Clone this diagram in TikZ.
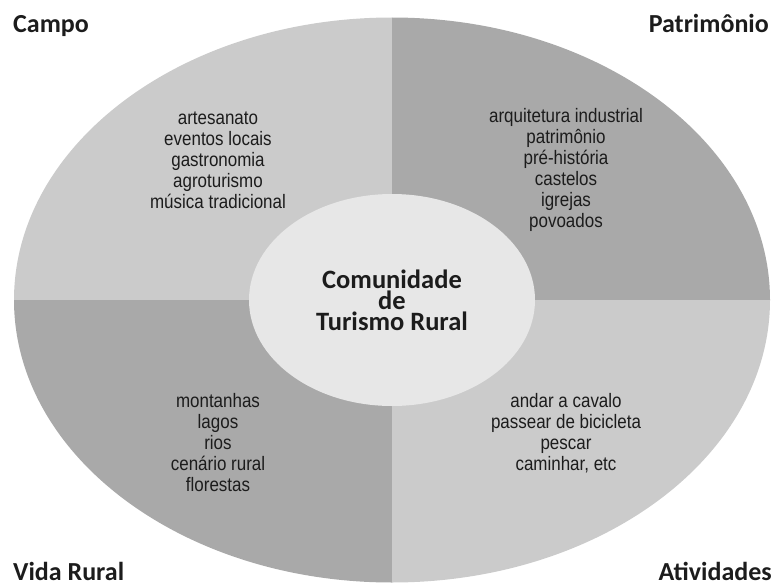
\documentclass[tikz,border=0pt]{standalone}
\usepackage{fontspec}
\usetikzlibrary{shapes.geometric}
\newfontfamily\labelfont{Carlito}[BoldFont={Carlito Bold}]
\newfontfamily\itemfont{Liberation Sans}[FakeStretch=0.87]
\definecolor{quadlight}{HTML}{CBCBCB}
\definecolor{quaddark}{HTML}{A9A9A9}
\definecolor{hubfill}{HTML}{E7E7E7}
\definecolor{inkcol}{HTML}{1C1C1C}
\tikzset{
  cornerlabel/.style={font=\labelfont\bfseries\fontsize{26}{28}\selectfont, text=inkcol, inner sep=0pt},
  % multi-line nodes: the base anchor sits on the last line
  itemlist/.style={font=\itemfont\fontsize{19.5}{21}\selectfont, text=inkcol, align=center, inner sep=0pt, anchor=base},
  hubnode/.style={ellipse, fill=hubfill, minimum width=286pt, minimum height=212pt, inner sep=0pt,
    font=\labelfont\bfseries\fontsize{26.5}{21}\selectfont, text=inkcol, align=center}
}
\begin{document}
\begin{tikzpicture}[x=1pt,y=-1pt]
\useasboundingbox (0,0) rectangle (774,586);
% four quadrants of the outer ellipse
\begin{scope}
  \clip (392,300) ellipse [x radius=378pt, y radius=282.5pt];
  \fill[quadlight] (0,0) rectangle (392,300);
  \fill[quaddark] (392,0) rectangle (774,300);
  \fill[quaddark] (0,300) rectangle (392,586);
  \fill[quadlight] (392,300) rectangle (774,586);
\end{scope}
% central hub
\node[hubnode] (hub) at (392,300) {Comunidade\\de\\Turismo Rural};
% corner titles
\node[cornerlabel, anchor=base west] (campo) at (13,33) {Campo};
\node[cornerlabel, anchor=base east] (patrimonio) at (769,33) {Patrimônio};
\node[cornerlabel, anchor=base west] (vida) at (13,580) {Vida Rural};
\node[cornerlabel, anchor=base east] (atividades) at (772,580) {Atividades};
% quadrant contents
\node[itemlist] (campolist) at (218,208) {artesanato\\eventos locais\\gastronomia\\agroturismo\\música tradicional};
\node[itemlist] (patrimoniolist) at (566,227) {arquitetura industrial\\patrimônio\\pré-história\\castelos\\igrejas\\povoados};
\node[itemlist] (vidalist) at (218,491) {montanhas\\lagos\\rios\\cenário rural\\florestas};
\node[itemlist] (atividadeslist) at (566,470) {andar a cavalo\\passear de bicicleta\\pescar\\caminhar, etc};
\end{tikzpicture}
\end{document}
